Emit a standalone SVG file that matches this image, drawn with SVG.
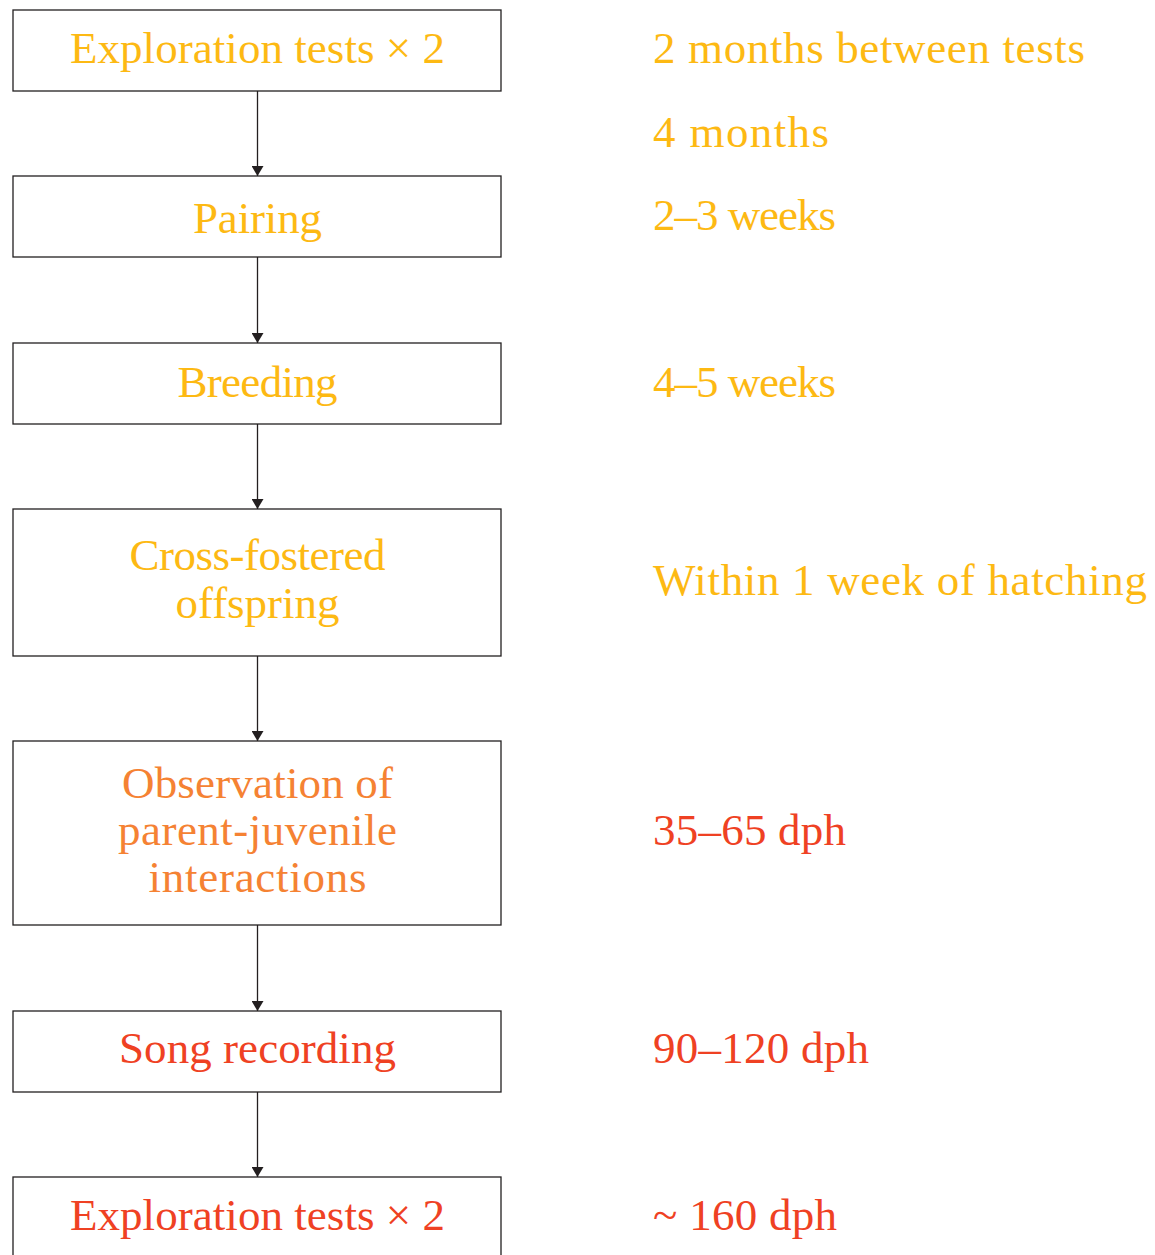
<svg xmlns="http://www.w3.org/2000/svg" width="1155" height="1255" viewBox="0 0 1155 1255">
<defs>
<marker id="ah" markerWidth="10" markerHeight="12" refX="10" refY="6" orient="auto" markerUnits="userSpaceOnUse">
<path d="M0,0 L10,6 L0,12 Z" fill="#231f20"/>
</marker>
<style>
.box{fill:#fff;stroke:#231f20;stroke-width:1.3}
.t{font-family:"Liberation Serif","Times New Roman",serif;font-size:45px}
.c{text-anchor:middle}
.y{fill:#fdb913}
.o{fill:#f58233}
.r{fill:#ef4123}
.ln{stroke:#231f20;stroke-width:1.3;fill:none}
</style>
</defs>
<rect width="1155" height="1255" fill="#fff"/>
<g id="connectors">
<line class="ln" x1="257.5" y1="91" x2="257.5" y2="176" marker-end="url(#ah)"/>
<line class="ln" x1="257.5" y1="257" x2="257.5" y2="343" marker-end="url(#ah)"/>
<line class="ln" x1="257.5" y1="424" x2="257.5" y2="509" marker-end="url(#ah)"/>
<line class="ln" x1="257.5" y1="656" x2="257.5" y2="741" marker-end="url(#ah)"/>
<line class="ln" x1="257.5" y1="925" x2="257.5" y2="1011" marker-end="url(#ah)"/>
<line class="ln" x1="257.5" y1="1092" x2="257.5" y2="1177" marker-end="url(#ah)"/>
</g>
<g id="node1"><rect class="box" x="13" y="10" width="488" height="81"/><text class="t c y" x="257.5" y="63" textLength="375">Exploration tests × 2</text></g>
<g id="node2"><rect class="box" x="13" y="176" width="488" height="81"/><text class="t c y" x="257.5" y="233" textLength="129">Pairing</text></g>
<g id="node3"><rect class="box" x="13" y="343" width="488" height="81"/><text class="t c y" x="257.5" y="397" textLength="160">Breeding</text></g>
<g id="node4"><rect class="box" x="13" y="509" width="488" height="147"/><text class="t c y" x="257.5" y="570" textLength="256">Cross-fostered</text><text class="t c y" x="257.5" y="618" textLength="164">offspring</text></g>
<g id="node5"><rect class="box" x="13" y="741" width="488" height="184"/><text class="t c o" x="257.5" y="798" textLength="271">Observation of</text><text class="t c o" x="257.5" y="845" textLength="279">parent-juvenile</text><text class="t c o" x="257.5" y="892" textLength="218">interactions</text></g>
<g id="node6"><rect class="box" x="13" y="1011" width="488" height="81"/><text class="t c r" x="257.5" y="1063" textLength="277">Song recording</text></g>
<g id="node7"><rect class="box" x="13" y="1177" width="488" height="90"/><text class="t c r" x="257.5" y="1230" textLength="375">Exploration tests × 2</text></g>
<g id="labels">
<text class="t y" x="653" y="63" textLength="432">2 months between tests</text>
<text class="t y" x="653" y="147" textLength="176">4 months</text>
<text class="t y" x="653" y="230" textLength="183">2–3 weeks</text>
<text class="t y" x="653" y="397" textLength="183">4–5 weeks</text>
<text class="t y" x="653" y="595" textLength="494">Within 1 week of hatching</text>
<text class="t r" x="653" y="845" textLength="193">35–65 dph</text>
<text class="t r" x="653" y="1063" textLength="216">90–120 dph</text>
<text class="t r" x="653" y="1230" textLength="184">~ 160 dph</text>
</g>
</svg>
